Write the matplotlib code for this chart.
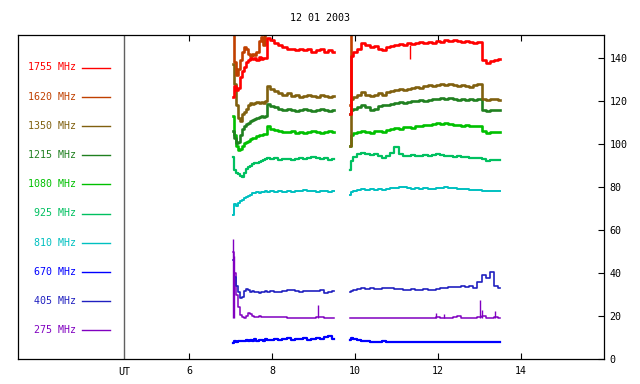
import numpy as np
import matplotlib
matplotlib.use('Agg')
import matplotlib.pyplot as plt
from matplotlib.lines import Line2D

# tiempos (UT, horas)
t1 = [7.05, 7.1, 7.15, 7.2, 7.25, 7.3, 7.35, 7.4, 7.45, 7.5, 7.55, 7.6, 7.65, 7.7, 7.75, 7.8, 7.85,
      7.9, 8.0, 8.1, 8.2, 8.3, 8.4, 8.5, 8.6, 8.7, 8.8, 8.9, 9.0, 9.1, 9.2, 9.3, 9.4, 9.5]
t2 = [9.88, 9.92, 10.0, 10.1, 10.2, 10.3, 10.4, 10.5, 10.6, 10.7, 10.8, 10.9, 11.0, 11.1, 11.2,
      11.3, 11.4, 11.5, 11.6, 11.7, 11.8, 11.9, 12.0, 12.1, 12.2, 12.3, 12.4, 12.5, 12.6, 12.7,
      12.8, 12.9, 13.0, 13.1, 13.2, 13.3, 13.4, 13.5]

# 1755 MHz
f1755_1 = [122, 127, 125, 126, 131, 134, 136, 138, 139, 140, 139.5, 140, 139, 140.5, 139.5, 140, 140,
           149.5, 148.5, 147, 146, 145, 144, 144, 143.5, 144, 143.5, 144, 143, 143.5, 144, 143, 143.5, 143]
f1755_2 = [114, 141, 143, 144, 147, 146, 145, 145.5, 144, 143.5, 145, 145.5, 146, 146.5, 146, 147,
           146.5, 147, 147.5, 147, 147.5, 147, 148, 147.5, 148.5, 148, 148.5, 148, 147.5, 148, 147.5,
           147, 147.5, 139, 137.5, 138.5, 139, 139.5]
# 1620 MHz (casi todo fuera de escala)
f1620_1 = [152, 138, 132, 135, 139, 143, 145, 144, 142, 141, 142, 141.5, 143, 148, 150, 146, 152,
           160, 160, 160, 160, 160, 160, 160, 160, 160, 160, 160, 160, 160, 160, 160, 160, 160]
t1620_2 = [9.88, 9.92]
f1620_2 = [118, 160]
# 1350 MHz
f1350_1 = [137, 128, 118, 112, 110.5, 114, 115, 116.5, 118, 119, 118.5, 119, 119.5, 119, 119.5, 119, 120,
           127, 125.5, 124.5, 123.5, 123, 123.5, 122.5, 123, 122, 122.5, 123, 122.5, 122, 123, 122.5, 122, 122.5]
f1350_2 = [99, 121, 122, 123, 124, 123, 122.5, 123, 123.5, 123, 124, 124.5, 125, 125.5, 125, 125.5,
           126, 126.5, 126, 127, 127.5, 127, 127.5, 128, 127.5, 128, 127.5, 127, 127.5, 127, 126.5,
           127.5, 128, 121, 120.5, 121, 121, 120.5]
# 1215 MHz
f1215_1 = [106, 103, 100.5, 101, 104, 107, 108.5, 109.5, 110, 110.5, 111, 111.5, 112, 112.5, 113, 112.5, 113,
           118.5, 117.5, 117, 116.5, 116, 116.5, 116, 115.5, 116, 116.5, 116, 115.5, 116, 116.5, 116, 115.5, 116]
f1215_2 = [114, 116, 116.5, 117, 118, 117, 116, 116.5, 117.5, 118, 118, 118.5, 119, 119.5, 119, 119.5,
           120, 120, 120.5, 120, 120.5, 121, 121, 121.5, 121, 121.5, 121, 120.5, 121, 120.5, 121,
           120.5, 121, 116, 115.5, 116, 116, 116]
# 1080 MHz
f1080_1 = [113, 104, 99, 97, 97.5, 99, 100.5, 101, 101.5, 102.5, 103, 103, 103.5, 104, 104, 104.5, 104.5,
           108.5, 107, 106.5, 106, 105.5, 105.5, 106, 105, 105.5, 105, 105.5, 106, 105.5, 105, 105.5, 106, 105.5]
f1080_2 = [99, 104, 105, 105.5, 106, 105.5, 105, 106, 106, 105.5, 106.5, 107, 107.5, 107, 108, 108,
           107.5, 108.5, 108.5, 109, 109, 109.5, 110, 109.5, 110, 109.5, 109, 109, 108.5, 109, 108.5,
           108.5, 108.5, 106, 105, 105.5, 105.5, 105.5]
# 925 MHz
f925_1 = [94, 88, 86.5, 86, 85, 84.5, 86.5, 88.5, 89.5, 90, 90.5, 91, 91, 91.5, 92, 92.5, 93,
          93.5, 93, 93.5, 92.5, 93, 93, 92.5, 93, 93.5, 93, 93.5, 94, 93.5, 93, 93.5, 92.5, 93]
f925_2 = [88, 92, 94, 95.5, 96, 95.5, 95, 95.5, 94.5, 93.5, 94.5, 96, 98.5, 95.5, 94.5, 94.5, 95,
          94.5, 94.5, 95, 94.5, 95, 95.5, 95, 94.5, 94.5, 94, 94.5, 94, 94, 93.5, 93.5, 93.5, 93,
          92, 92.5, 92.5, 92.5]
# 810 MHz
f810_1 = [67, 72, 71, 72.5, 73.5, 74, 75, 75.5, 76, 76.5, 77, 77, 77.5, 77, 77.5, 77.5, 78,
          77.5, 78, 77.5, 78, 77.5, 78, 77.5, 78, 78, 78.5, 78, 78, 77.5, 78, 78, 77.5, 78]
f810_2 = [76.5, 77.5, 78, 78.5, 79, 78.5, 79, 78.5, 79, 78.5, 79, 79.5, 79.5, 80, 80, 79.5, 79,
          79.5, 79, 79.5, 79, 79, 79.5, 79.5, 80, 79.5, 79.5, 79, 79, 79, 78.5, 78.5, 78.5, 78, 78,
          78, 78, 78]
# 670 MHz
f670_1 = [7.5, 8.5, 8, 8.5, 8.2, 8.5, 8.3, 8.8, 8.5, 9, 8.5, 9.2, 8.6, 8.8, 9, 8.6, 9.3,
          8.8, 9, 9.5, 8.8, 9.2, 9.6, 8.9, 9.4, 9.1, 9.7, 9, 9.3, 9.8, 9.1, 10.2, 10.5, 9.5]
f670_2 = [9, 9.8, 9.2, 8.8, 8.6, 8.3, 8.1, 8, 8, 8.2, 8, 8, 8.1, 8, 7.9, 7.9, 8, 8, 7.9, 8, 8, 8,
          8.1, 8, 8, 8, 8, 7.9, 7.9, 8, 8, 8, 8, 8, 8, 8, 8, 8]
# 405 MHz
f405_1 = [46, 38, 34, 31, 28.5, 29, 31.5, 32.5, 32, 31, 31.5, 31, 31, 30.5, 31, 31, 31.5,
          31, 31.5, 31, 31, 31.5, 32, 32, 31.5, 31, 31.5, 31.5, 31.5, 31.5, 32, 30.5, 31, 31.5]
f405_2 = [31, 31.5, 32, 32.5, 33, 32.5, 33, 32.5, 32.5, 33, 33, 33, 32.5, 32.5, 32, 32, 32.5, 32,
          32, 32.5, 32, 32, 32.5, 33, 33, 33.5, 33.5, 33.5, 34, 33.5, 34, 33, 36, 39, 37.5, 40.5,
          34, 33]
# 275 MHz
f275_1 = [50, 40, 30, 24, 20.5, 19.5, 19, 20, 21.5, 21, 20, 19.5, 19.5, 20, 19.5, 19.5, 19.5,
          19.5, 19.5, 19.5, 19.5, 19.5, 19, 19, 19.2, 19.2, 19.2, 19.2, 19.2, 19.5, 19.5, 19, 19.2, 19]
f275_2 = [19, 19.2, 19.2, 19.3, 19.2, 19.2, 19.2, 19.3, 19.2, 19.2, 19.3, 19.2, 19.3, 19.2, 19.2,
          19.2, 19.2, 19.2, 19.2, 19.2, 19.2, 19.3, 19.5, 19.3, 19.2, 19.3, 19.5, 19.8, 19.3, 19.2,
          19.2, 19.2, 19.5, 19.8, 19.2, 19.3, 19.5, 19]
# picos aislados
spk275_t = [7.06, 7.09, 9.12, 11.95, 12.15, 13.01, 13.07, 13.37]
spk275_v = [56, 48, 25, 21.5, 21, 27.5, 23, 22.5]
dip1755_t = [11.33]
dip1755_v = [139.5]

labels = ['1755 MHz', '1620 MHz', '1350 MHz', '1215 MHz', '1080 MHz',
          '925 MHz', '810 MHz', '670 MHz', '405 MHz', '275 MHz']
colors = ['#ff0000', '#c04000', '#80600f', '#208020', '#00c000',
          '#00c060', '#00c0c0', '#0000ff', '#2020c0', '#8000c0']

series = [
    (t1, f1755_1, t2, f1755_2),
    (t1, f1620_1, t1620_2, f1620_2),
    (t1, f1350_1, t2, f1350_2),
    (t1, f1215_1, t2, f1215_2),
    (t1, f1080_1, t2, f1080_2),
    (t1, f925_1, t2, f925_2),
    (t1, f810_1, t2, f810_2),
    (t1, f670_1, t2, f670_2),
    (t1, f405_1, t2, f405_2),
    (t1, f275_1, t2, f275_2),
]
widths = [1.9, 1.9, 1.9, 1.9, 1.9, 1.6, 1.4, 1.6, 1.2, 1.1]

mono = 'DejaVu Sans Mono'
fs = 7.2

fig = plt.figure(figsize=(6.4, 3.84), dpi=100)
ax = fig.add_axes([18/640, 25/384, 586/640, 324/384])

for i in range(len(series) - 1, -1, -1):
    ta, va, tb, vb = series[i]
    ax.plot(ta, va, color=colors[i], lw=widths[i], drawstyle='steps-mid')
    ax.plot(tb, vb, color=colors[i], lw=widths[i], drawstyle='steps-mid')

ax.vlines(spk275_t, 19, spk275_v, color=colors[9], lw=1)
ax.vlines(dip1755_t, dip1755_v, 146, color=colors[0], lw=1)

ax.axvline(4.43, color='#606060', lw=1)

ax.set_xlim(1.88, 16.0)
ax.set_ylim(0, 150.7)
ax.set_xticks([6, 8, 10, 12, 14])
ax.set_xticklabels(['6', '8', '10', '12', '14'], family=mono, fontsize=fs)
ax.set_yticks([0, 20, 40, 60, 80, 100, 120, 140])
ax.set_yticklabels(['0', '20', '40', '60', '80', '100', '120', '140'], family=mono, fontsize=fs)
ax.yaxis.tick_right()
ax.tick_params(axis='x', direction='in', length=4, width=0.8, top=True, bottom=True, pad=5)
ax.tick_params(axis='y', direction='in', length=4, width=0.8, left=False, right=True, pad=4)
for s in ax.spines.values():
    s.set_linewidth(0.9)

ax.text(4.43, -0.025, 'UT', transform=ax.get_xaxis_transform(), ha='center', va='top',
        family=mono, fontsize=fs)

fig.text(0.5, 1 - 18/384, '12 01 2003', ha='center', va='center', family=mono, fontsize=fs)

# leyenda a la izquierda
for i, lab in enumerate(labels):
    ypx = 67.5 + i * 29.2
    yf = 1 - ypx / 384
    fig.text(76/640, yf, lab, ha='right', va='center', family=mono, fontsize=fs, color=colors[i])
    fig.add_artist(Line2D([82/640, 110/640], [yf, yf], color=colors[i], lw=1,
                          transform=fig.transFigure))

plt.savefig('out.png', dpi=100)
